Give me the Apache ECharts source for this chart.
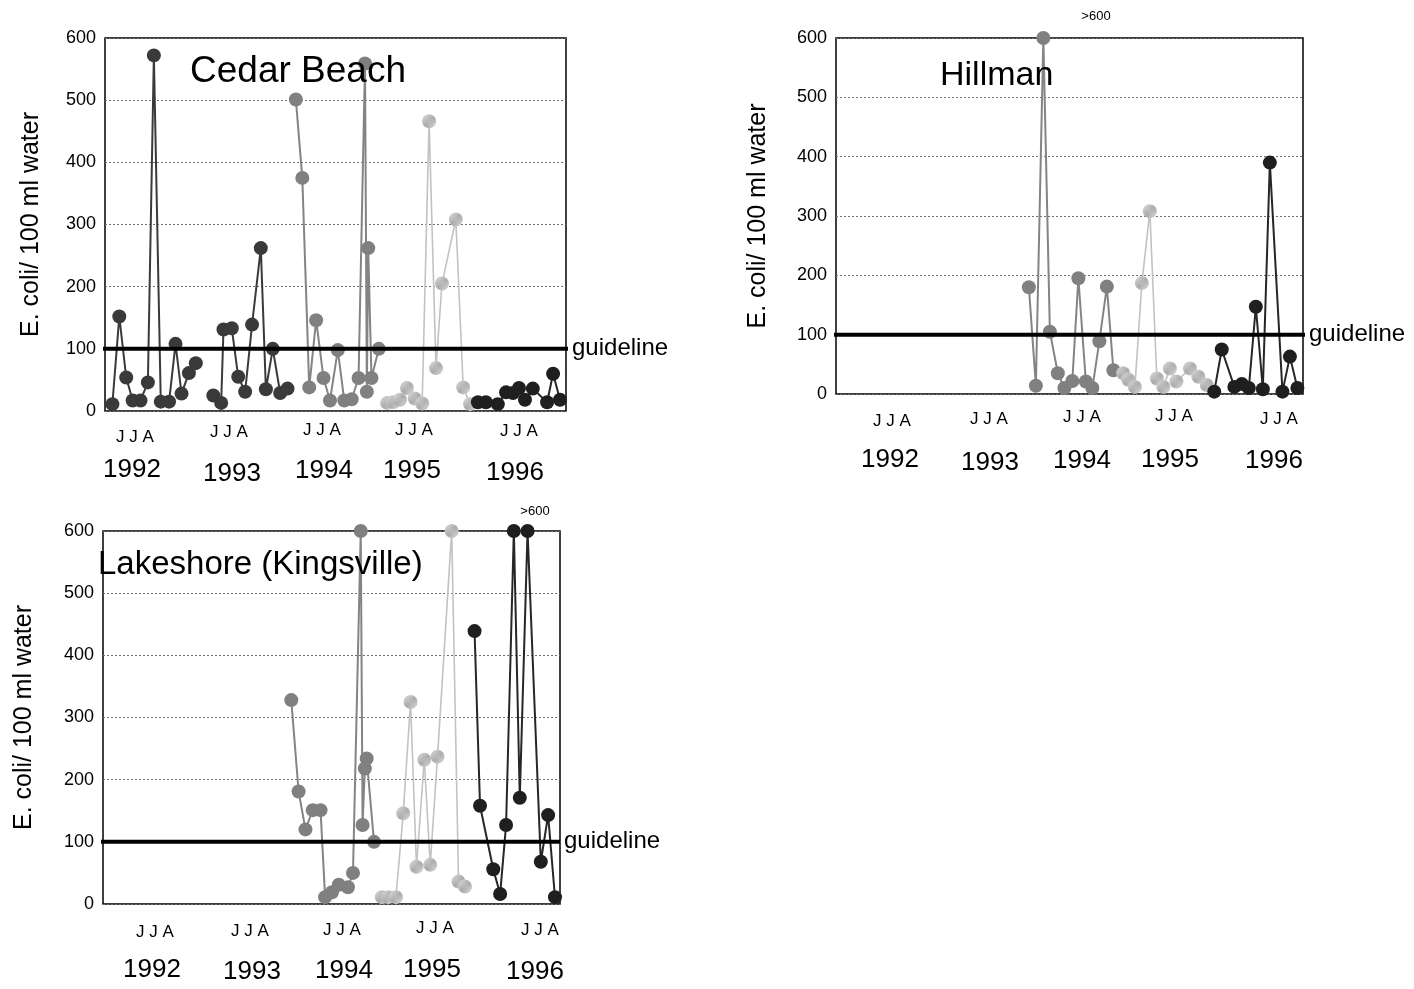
<!DOCTYPE html>
<html>
<head>
<meta charset="utf-8">
<script src="https://cdn.jsdelivr.net/npm/echarts@6/dist/echarts.min.js"></script>
<style>
  html, body { margin: 0; padding: 0; background: #fff; }
  #chart { width: 1414px; height: 989px; }
</style>
</head>
<body>
<div id="chart"></div>
<script>
// ---------------- DATA ----------------
// Each point: [sampling position along the 1992-1996 record (0-100), E. coli per 100 ml]
const yTicks = [0, 100, 200, 300, 400, 500, 600];
const guidelineValue = 100;
const years = ['1992', '1993', '1994', '1995', '1996'];
const monthLabel = 'J J A';
const yAxisTitle = 'E. coli/ 100 ml water';
const panelTitles = ['Cedar Beach', 'Hillman', 'Lakeshore (Kingsville)'];
const overLimitLabel = '>600';

const cedar1992 = [[1.6,11],[3.1,152],[4.6,54],[6.0,17],[7.7,17],[9.3,46],[10.6,572],[12.1,15],[13.9,15],[15.3,108],[16.6,28],[18.2,61],[19.7,77]];
const cedar1993 = [[23.5,25],[25.2,13],[25.7,131],[27.5,133],[28.9,55],[30.4,31],[31.9,139],[33.8,262],[34.9,35],[36.4,100],[38.0,29],[39.6,36]];
const cedar1994 = [[41.4,501],[42.8,375],[44.3,38],[45.8,146],[47.4,53],[48.8,17],[50.5,98],[51.9,17],[53.5,19],[55.0,53],[56.4,559],[56.8,31],[57.1,262],[57.8,53],[59.4,100]];
const cedar1995 = [[61.2,13],[62.5,14],[64.0,18],[65.5,37],[67.2,20],[68.8,12],[70.3,466],[71.8,69],[73.1,205],[76.1,308],[77.7,38],[79.2,11]];
const cedar1996 = [[80.9,14],[82.6,14],[85.2,11],[87.0,30],[88.5,29],[89.8,37],[91.1,18],[92.8,36],[95.9,14],[97.2,60],[98.7,18]];

const hillman1994 = [[41.3,180],[42.8,14],[44.4,600],[45.8,105],[47.5,35],[48.9,10],[50.6,22],[51.9,195],[53.5,21],[54.9,10],[56.4,89],[58.0,181],[59.4,40]];
const hillman1995 = [[61.5,35],[62.6,24],[64.0,12],[65.5,187],[67.2,308],[68.7,26],[70.1,12],[71.5,43],[72.9,21],[75.8,43],[77.6,29],[79.4,15]];
const hillman1996 = [[81.0,4],[82.6,75],[85.3,12],[86.9,17],[88.4,10],[89.9,147],[91.4,8],[92.9,390],[95.6,4],[97.2,63],[98.8,10]];

const lake1994 = [[41.2,328],[42.8,181],[44.3,120],[45.9,151],[47.6,151],[48.6,11],[50.1,19],[51.6,31],[53.6,27],[54.7,50],[56.4,600],[56.8,127],[57.3,218],[57.7,234],[59.3,100]];
const lake1995 = [[61.0,11],[62.4,11],[64.1,11],[65.7,146],[67.3,325],[68.6,60],[70.3,232],[71.6,63],[73.2,237],[76.3,600],[77.8,36],[79.2,28]];
const lake1996 = [[81.3,439],[82.5,158],[85.4,56],[86.9,16],[88.2,127],[89.9,600],[91.2,171],[92.9,600],[95.8,68],[97.4,143],[98.9,11]];

// ---------------- STYLE / LAYOUT ----------------
const FONT = 'Liberation Sans, Arial, sans-serif';

function pattern(size, bg, draw) {
  const c = document.createElement('canvas');
  c.width = size; c.height = size;
  const g = c.getContext('2d');
  g.fillStyle = bg; g.fillRect(0, 0, size, size);
  draw(g);
  return { image: c, repeat: 'repeat' };
}
const fill1995 = pattern(6, '#d6d6d6', g => {
  g.strokeStyle = '#a9a9a9'; g.lineWidth = 1.2;
  g.beginPath(); g.moveTo(0, 6); g.lineTo(6, 0); g.stroke();
  g.beginPath(); g.moveTo(-3, 3); g.lineTo(3, -3); g.stroke();
  g.beginPath(); g.moveTo(3, 9); g.lineTo(9, 3); g.stroke();
});
const fill1996 = pattern(3, '#1f1f1f', g => {
  g.fillStyle = '#5c5c5c'; g.fillRect(1, 1, 1, 1);
});

const yearStyle = {
  '1992': { line: '#3a3a3a', fill: '#3a3a3a', w: 2 },
  '1993': { line: '#3a3a3a', fill: '#3a3a3a', w: 2 },
  '1994': { line: '#848484', fill: '#808080', w: 2 },
  '1995': { line: '#c2c2c2', fill: fill1995, w: 1.6 },
  '1996': { line: '#262626', fill: fill1996, w: 2 }
};

const grids = [
  { left: 105, top: 38, width: 461, height: 373 },
  { left: 836, top: 38, width: 467, height: 356 },
  { left: 103, top: 531, width: 457, height: 373 }
];
const nameGaps = [61, 65, 66];
const guideExtent = [[-1.8, 101], [-3.4, 100.5], [-1.2, 100]];

const panelData = [
  [['1992', cedar1992], ['1993', cedar1993], ['1994', cedar1994], ['1995', cedar1995], ['1996', cedar1996]],
  [['1994', hillman1994], ['1995', hillman1995], ['1996', hillman1996]],
  [['1994', lake1994], ['1995', lake1995], ['1996', lake1996]]
];

const series = [];
panelData.forEach((list, gi) => {
  list.forEach(([yr, pts]) => {
    const st = yearStyle[yr];
    series.push({
      type: 'line', name: panelTitles[gi] + ' ' + yr,
      xAxisIndex: gi, yAxisIndex: gi,
      data: pts, clip: false, animation: false,
      symbol: 'circle', symbolSize: 14, showSymbol: true,
      lineStyle: { color: st.line, width: st.w },
      itemStyle: { color: st.fill, borderWidth: 0 },
      z: 3
    });
  });
  series.push({
    type: 'line', xAxisIndex: gi, yAxisIndex: gi,
    data: [[guideExtent[gi][0], guidelineValue], [guideExtent[gi][1], guidelineValue]],
    clip: false, animation: false, symbol: 'none', silent: true,
    lineStyle: { color: '#000', width: 4 },
    endLabel: { show: true, formatter: 'guideline', fontSize: 24, fontFamily: FONT, color: '#000', distance: 4 },
    z: 5
  });
});

// text positions (pixel layout)
const monthPos = [
  [[135,437],[229,432],[322,430],[414,430],[519,431]],
  [[892,421],[989,419],[1082,417],[1174,416],[1279,419]],
  [[155,932],[250,931],[342,930],[435,928],[540,930]]
];
const yearPos = [
  [[132,470],[232,474],[324,471],[412,471],[515,473]],
  [[890,460],[990,463],[1082,461],[1170,460],[1274,461]],
  [[152,970],[252,972],[344,971],[432,970],[535,972]]
];
const titlePos = [[190, 90, 37], [940, 93, 34], [98, 581, 33]];
const overPos = [[1096, 16], [535, 511]];

const graphic = [];
monthPos.forEach(row => row.forEach(([x, y]) => graphic.push({
  type: 'text', x, y, z: 10,
  style: { text: monthLabel, fontSize: 17, fontFamily: FONT, fill: '#000', textAlign: 'center', textVerticalAlign: 'middle' }
})));
yearPos.forEach(row => row.forEach(([x, y], i) => graphic.push({
  type: 'text', x, y, z: 10,
  style: { text: years[i], fontSize: 26, fontFamily: FONT, fill: '#000', textAlign: 'center', textVerticalAlign: 'middle' }
})));
titlePos.forEach(([x, y, fs], i) => graphic.push({
  type: 'text', x, y, z: 10,
  style: { text: panelTitles[i], fontSize: fs, fontFamily: FONT, fill: '#000', textAlign: 'left', textVerticalAlign: 'bottom' }
}));
overPos.forEach(([x, y]) => graphic.push({
  type: 'text', x, y, z: 10,
  style: { text: overLimitLabel, fontSize: 13, fontFamily: FONT, fill: '#000', textAlign: 'center', textVerticalAlign: 'middle' }
}));

const option = {
  backgroundColor: '#fff',
  animation: false,
  grid: grids.map(g => Object.assign({ show: true, borderColor: '#000', borderWidth: 1.5, backgroundColor: 'transparent' }, g)),
  xAxis: grids.map((g, i) => ({ type: 'value', gridIndex: i, min: 0, max: 100, show: false })),
  yAxis: grids.map((g, i) => ({
    type: 'value', gridIndex: i, min: yTicks[0], max: yTicks[yTicks.length - 1], interval: 100,
    name: yAxisTitle, nameLocation: 'middle', nameGap: nameGaps[i], nameRotate: 90,
    nameTextStyle: { fontSize: 25, fontFamily: FONT, color: '#000' },
    axisLine: { show: false }, axisTick: { show: false },
    axisLabel: { fontSize: 18, fontFamily: FONT, color: '#000', margin: 9 },
    splitLine: { show: true, lineStyle: { color: '#707070', width: 1, type: [2, 2] } }
  })),
  series,
  graphic
};

const chart = echarts.init(document.getElementById('chart'), null, { renderer: 'canvas' });
chart.setOption(option);
</script>
</body>
</html>
